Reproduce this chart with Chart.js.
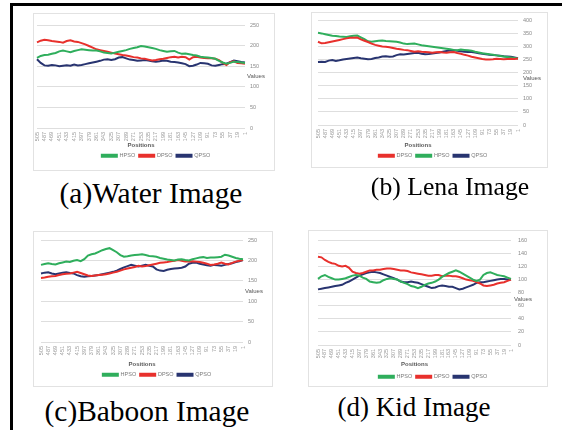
<!DOCTYPE html>
<html><head><meta charset="utf-8">
<script src="https://cdn.jsdelivr.net/npm/chart.js@4"></script>
<style>
html,body{margin:0;padding:0;background:#fff;width:562px;height:430px;overflow:hidden;}
body{position:relative;}
#frame{position:absolute;left:10px;top:3px;width:600px;height:500px;border-left:3px solid #000;border-top:3px solid #000;}
.cv{position:absolute;}
.bx{position:absolute;border:1px solid #e2e2e2;box-sizing:border-box;pointer-events:none;}
.cap{position:absolute;width:300px;text-align:center;font-family:"Liberation Serif","Times New Roman",serif;color:#000;white-space:nowrap;}
</style></head><body>
<div id="frame"></div>
<div id="root"></div>
<script>
const positions = [505,496,487,478,469,460,451,442,433,424,415,406,397,388,379,370,361,352,343,334,325,316,307,298,289,280,271,262,253,244,235,226,217,208,199,190,181,172,163,154,145,136,127,118,109,100,91,82,73,64,55,46,37,28,19,10,1];

const waterHPSO = [170,175,177,178,180,182,186,188,186,184,187,189,191,190,189,188,188,186,183,182,181,183,185,187,189,192,194,196,199,198,196,194,192,189,187,185,186,187,183,180,181,179,177,176,173,172,171,170,168,163,159,156,158,161,160,159,158];
const waterDPSO = [208,212,214,213,211,210,209,207,211,213,210,209,206,203,199,195,191,189,187,185,183,181,179,177,176,174,172,171,169,168,166,164,165,167,168,170,172,173,171,173,172,166,172,173,171,170,169,169,168,165,158,153,160,162,158,157,156];
const waterQPSO = [167,158,152,151,153,152,150,151,152,151,154,152,153,155,157,159,161,163,166,167,165,167,171,172,169,166,165,163,164,165,164,162,161,162,164,163,161,160,159,157,155,150,151,154,158,157,156,152,151,153,155,156,160,164,162,160,159];

const lenaDPSO = [318,312,313,316,319,322,325,328,331,333,333,334,327,322,317,311,306,303,300,299,297,294,291,289,287,286,283,280,282,280,279,278,276,278,279,277,276,278,279,275,272,268,265,261,258,255,252,250,250,251,253,252,251,252,253,252,254];
const lenaHPSO = [352,350,347,344,341,340,338,337,336,339,341,342,335,328,320,318,320,322,323,321,320,319,318,315,311,309,310,311,308,305,303,301,299,297,295,293,291,289,287,286,288,287,286,284,280,277,274,272,270,268,266,264,262,260,258,256,254];
const lenaQPSO = [241,242,241,246,248,245,247,250,252,254,256,258,255,253,251,252,256,258,262,263,261,262,267,270,269,271,273,275,276,272,270,271,273,275,277,280,283,285,286,284,282,280,279,279,277,274,272,270,268,267,266,265,263,262,261,258,255];

const baboonHPSO = [189,191,193,191,190,193,195,197,196,199,201,198,203,212,215,217,221,225,228,230,225,220,213,209,210,212,213,214,215,213,211,210,209,206,204,202,201,200,202,203,201,200,203,205,207,208,206,207,207,208,209,214,212,209,206,204,203];
const baboonDPSO = [157,158,160,161,162,164,166,167,168,170,172,169,166,163,162,163,164,165,166,168,170,172,175,178,180,182,184,187,185,186,188,190,192,194,195,196,198,199,201,199,197,197,198,197,196,194,192,189,190,192,195,192,190,194,197,199,201];
const baboonQPSO = [168,170,171,168,166,168,170,171,169,168,164,161,160,161,162,163,164,166,168,170,172,175,179,183,186,189,187,185,187,189,187,185,178,175,174,177,179,180,181,182,185,192,194,195,192,190,188,187,189,188,187,189,191,193,196,198,201];

const kidHPSO = [101,105,107,104,102,100,100,101,102,104,106,107,106,103,101,97,96,95,96,99,101,102,101,100,97,95,93,90,89,87,89,92,94,95,97,100,104,107,110,112,114,112,109,106,103,100,98,100,107,110,111,109,107,106,105,103,101];
const kidDPSO = [135,134,130,127,125,124,121,120,121,118,112,110,109,110,112,114,114,115,115,116,117,117,116,115,114,114,113,111,110,109,108,107,106,106,107,107,105,106,106,105,105,104,102,100,99,98,96,94,91,90,91,92,94,95,96,98,100];
const kidQPSO = [85,86,87,88,89,90,91,92,95,97,100,103,106,108,110,111,112,111,110,108,106,104,102,100,97,96,96,97,96,95,93,91,89,87,88,90,91,90,89,89,87,85,86,88,90,92,95,96,96,97,98,99,100,101,101,100,100];

const captions = ['(a)Water Image','(b) Lena Image','(c)Baboon Image','(d) Kid Image'];
const yMax = [250, 400, 250, 160];
const yStep = [50, 50, 50, 20];

const GREEN = '#2fae5c', RED = '#e8302c', NAVY = '#283470';

const panels = [
  {box:[33,13,275,171], ca:[37,25,245,128], legTop:136, titlePad:0, valAt:125, valDx:2, tickPad:5, capTop:179, capCx:151, capFs:29.4,
   series:[['HPSO',waterHPSO,GREEN],['DPSO',waterDPSO,RED],['QPSO',waterQPSO,NAVY]]},
  {box:[311,12,548,168], ca:[318,20,518,125], legTop:137, titlePad:0, valAt:180, valDx:5, tickPad:5, capTop:174, capCx:450, capFs:25.7,
   series:[['DPSO',lenaDPSO,RED],['HPSO',lenaHPSO,GREEN],['QPSO',lenaQPSO,NAVY]]},
  {box:[33,231,273,387], ca:[41,240,243,342], legTop:137, titlePad:0, valAt:125, valDx:2, tickPad:5, capTop:397, capCx:147, capFs:29.4,
   series:[['HPSO',baboonHPSO,GREEN],['DPSO',baboonDPSO,RED],['QPSO',baboonQPSO,NAVY]]},
  {box:[308,230,548,387], ca:[318,238,511,345], legTop:140, titlePad:2, valAt:70, valDx:3, tickPad:7, capTop:394, capCx:414, capFs:27,
   series:[['HPSO',kidHPSO,GREEN],['DPSO',kidDPSO,RED],['QPSO',kidQPSO,NAVY]]}
];

const valuesPlugin = {
  id:'valuesLabel',
  afterDraw(chart, args, opts){
    const ys = chart.scales.y; const ctx = chart.ctx;
    ctx.save();
    ctx.font = '6px "Liberation Sans", Arial, sans-serif';
    ctx.fillStyle = '#555';
    ctx.textAlign = 'left'; ctx.textBaseline = 'middle';
    ctx.fillText('Values', ys.left + opts.dx, ys.getPixelForValue(opts.at));
    ctx.restore();
  }
};

const root = document.getElementById('root');
panels.forEach((p, k) => {
  const [bl, bt, br, bb] = p.box;
  const W = br - bl, H = bb - bt;
  const caL = p.ca[0]-bl, caT = p.ca[1]-bt, caR = p.ca[2]-bl, caB = p.ca[3]-bt;
  const legH = 9;
  const pb = H - p.legTop - legH;
  const xh = p.legTop - caB;
  const yw = W - caR;

  const c = document.createElement('canvas');
  c.className = 'cv'; c.width = W; c.height = H;
  c.style.left = bl+'px'; c.style.top = bt+'px'; c.style.width = W+'px'; c.style.height = H+'px';
  root.appendChild(c);
  const b = document.createElement('div');
  b.className = 'bx';
  b.style.left = bl+'px'; b.style.top = bt+'px'; b.style.width = W+'px'; b.style.height = H+'px';
  root.appendChild(b);
  const cap = document.createElement('div');
  cap.className = 'cap'; cap.textContent = captions[k];
  cap.style.left = (p.capCx-150)+'px'; cap.style.top = p.capTop+'px';
  cap.style.fontSize = p.capFs+'px'; cap.style.lineHeight = p.capFs+'px';
  root.appendChild(cap);

  new Chart(c, {
    type:'line',
    data:{
      labels: positions.map(String),
      datasets: p.series.map(s => ({label:s[0], data:s[1], borderColor:s[2], backgroundColor:s[2], borderWidth:2, pointRadius:0, tension:0, fill:false}))
    },
    options:{
      responsive:false, animation:false, devicePixelRatio:1,
      layout:{padding:{left:caL, top:caT, right:0, bottom:pb}},
      plugins:{
        legend:{position:'bottom', maxHeight:legH,
          labels:{boxWidth:15, boxHeight:2, padding:4, color:'#7a7a7a', font:{size:5.5, family:'"Liberation Sans", Arial, sans-serif'}}},
        tooltip:{enabled:false},
        valuesLabel:{at:p.valAt, dx:p.valDx}
      },
      scales:{
        x:{
          grid:{display:false, drawTicks:false}, border:{display:false},
          ticks:{autoSkip:false, maxRotation:90, minRotation:90, padding:4, color:'#9a9a9a',
            font:{size:5.5, family:'"Liberation Sans", Arial, sans-serif'},
            callback:(v,i) => (i % 2 === 0 ? String(positions[i]) : '')},
          title:{display:true, text:'Positions', color:'#5a5a5a', padding:{top:0, bottom:p.titlePad},
            font:{size:6, weight:'bold', family:'"Liberation Sans", Arial, sans-serif'}},
          afterFit:(s) => { s.height = xh; }
        },
        y:{
          position:'right', min:0, max:yMax[k],
          ticks:{stepSize:yStep[k], padding:p.tickPad, color:'#8a8a8a', font:{size:5.5, family:'"Liberation Sans", Arial, sans-serif'}},
          grid:{color:'#dedede', drawTicks:false}, border:{display:false},
          afterFit:(s) => { s.width = yw; }
        }
      }
    },
    plugins:[valuesPlugin]
  });
});
</script>
</body></html>
